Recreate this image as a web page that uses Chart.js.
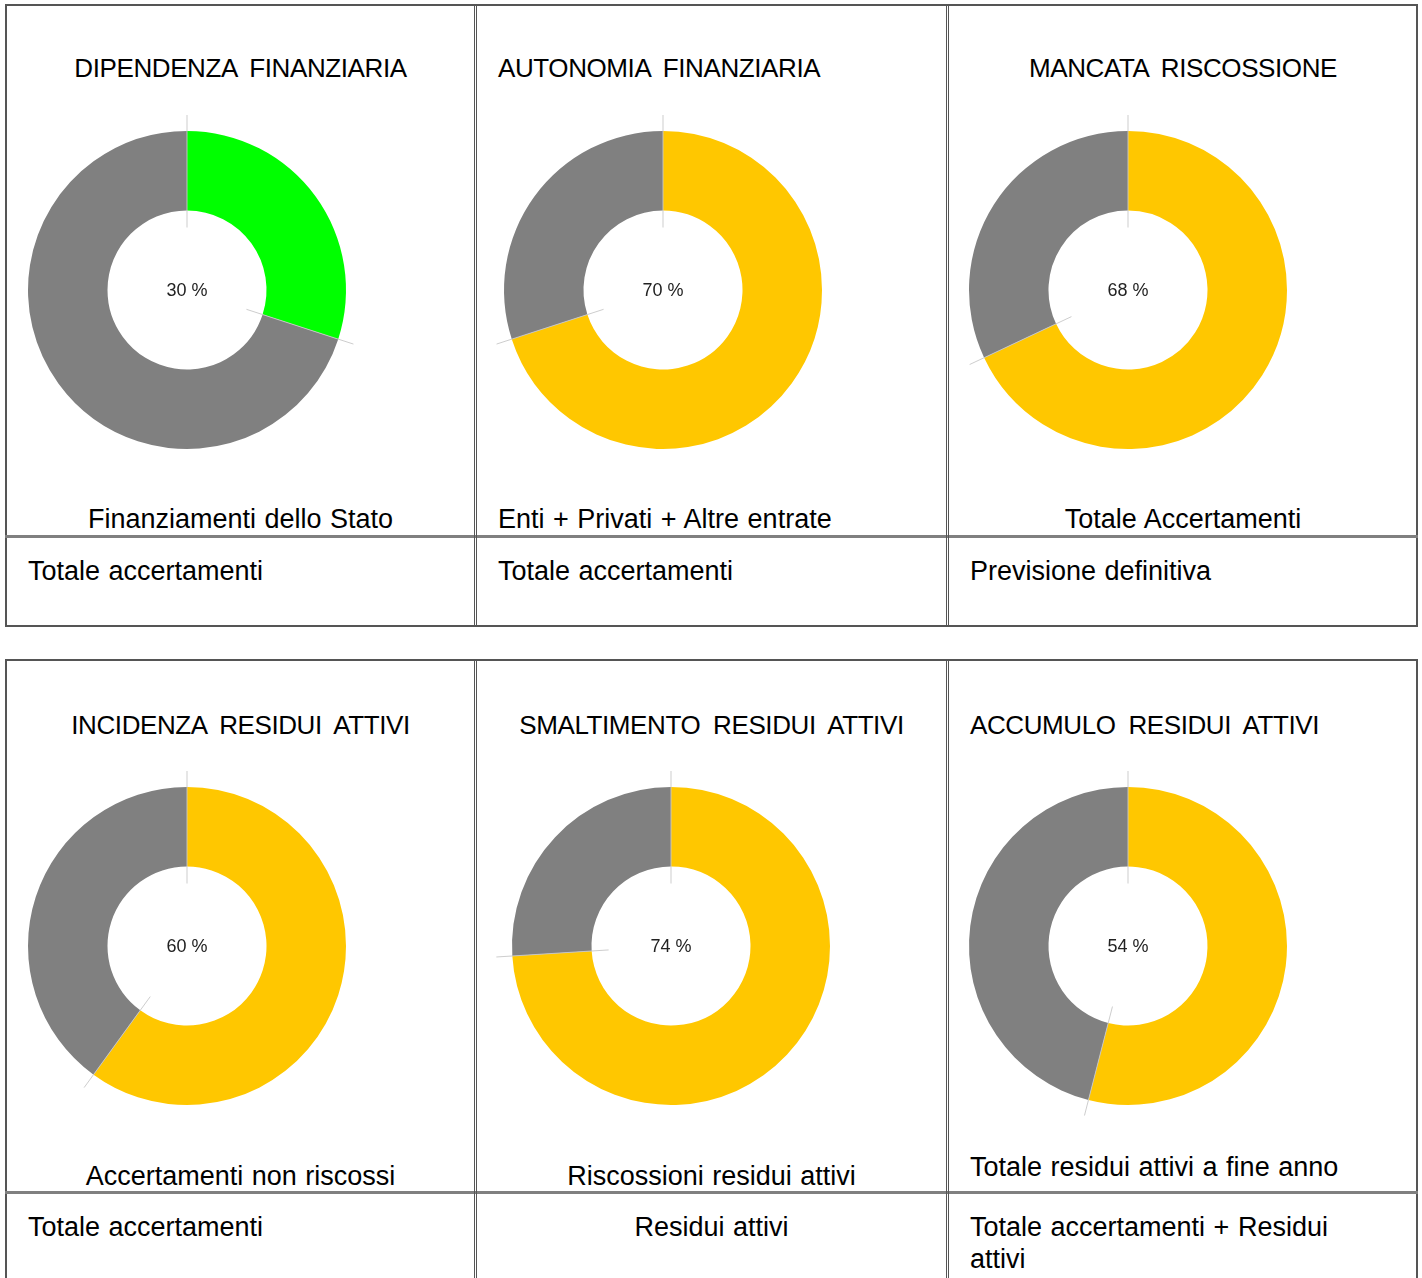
<!doctype html>
<html lang="it">
<head>
    <meta charset="UTF-8">
    <title>Indicatori finanziari</title>
    <style>
        html, body {
            margin: 0;
            padding: 0;
            background: #fff;
        }
        body {
            width: 1422px;
            height: 1278px;
            position: relative;
            overflow: hidden;
            font-family: 'Liberation Sans', Arial, sans-serif;
            color: #000;
        }
        .box {
            position: absolute;
            border: 2px solid #555;
            box-sizing: border-box;
        }
        .vline {
            position: absolute;
            width: 1px;
            background: #555;
        }
        .hline {
            position: absolute;
            height: 3px;
            background: #808080;
        }
        .txt {
            position: absolute;
            font-size: 27px;
            line-height: 30px;
            white-space: nowrap;
            word-spacing: 1px;
        }
        .txt.title {
            font-size: 26px;
            letter-spacing: -0.4px;
            word-spacing: 6px;
        }
        .chart {
            position: absolute;
            width: 360px;
            height: 360px;
        }
    </style>
</head>
<body>
    <div id="page"></div>
    <script src="https://cdn.jsdelivr.net/npm/chart.js@4/dist/chart.umd.min.js"></script>
    <script>
        // indicatori (percentuale della parte colorata)
        var titles = ['DIPENDENZA FINANZIARIA', 'AUTONOMIA FINANZIARIA', 'MANCATA RISCOSSIONE',
                      'INCIDENZA RESIDUI ATTIVI', 'SMALTIMENTO RESIDUI ATTIVI', 'ACCUMULO RESIDUI ATTIVI'];
        var numerators = ['Finanziamenti dello Stato', 'Enti + Privati + Altre entrate', 'Totale Accertamenti',
                          'Accertamenti non riscossi', 'Riscossioni residui attivi', 'Totale residui attivi a fine anno'];
        var denominators = ['Totale accertamenti', 'Totale accertamenti', 'Previsione definitiva',
                            'Totale accertamenti', 'Residui attivi', 'Totale accertamenti + Residui<br>attivi'];
        var values = [30, 70, 68, 60, 74, 54];
        var colors = ['#00ff00', '#ffc700', '#ffc700', '#ffc700', '#ffc700', '#ffc700'];
        var restColor = '#808080';

        // layout of the two tables
        var colX = [7, 477, 949];
        var colW = [467, 469, 468];
        var tableTop = [4, 659];
        var tableBottom = [627, 1300];
        var rowLine = [535, 1191];
        var centers = [[187, 290], [663, 290], [1128, 290], [187, 946], [671, 946], [1128, 946]];
        // text placement: 'c' centered in the column, 'l' left with padding
        var titleAlign = ['c', 'l', 'c', 'c', 'c', 'l'];
        var titleY = [68, 68, 68, 725, 725, 725];
        var numAlign = ['c', 'l', 'c', 'c', 'c', 'l'];
        var numY = [519, 519, 519, 1176, 1176, 1167];
        var denAlign = ['l', 'l', 'l', 'l', 'c', 'l'];
        var denY = [571, 571, 571, 1227, 1227, 1227];

        var page = document.getElementById('page');

        function add(cls, css, html) {
            var d = document.createElement('div');
            d.className = cls;
            d.style.cssText = css;
            if (html) d.innerHTML = html;
            page.appendChild(d);
            return d;
        }

        for (var t = 0; t < 2; t++) {
            var y0 = tableTop[t], y1 = tableBottom[t];
            add('box', 'left:5px;top:' + y0 + 'px;width:1413px;height:' + (y1 - y0) + 'px;');
            add('hline', 'left:5px;top:' + rowLine[t] + 'px;width:1413px;');
            [474, 476, 946, 948].forEach(function (x) {
                add('vline', 'left:' + x + 'px;top:' + y0 + 'px;height:' + (y1 - y0) + 'px;');
            });
        }

        function placeText(i, text, align, y, extra) {
            var col = i % 3;
            var css = 'top:' + (y - 15) + 'px;';
            if (align === 'c') {
                css += 'left:' + colX[col] + 'px;width:' + colW[col] + 'px;text-align:center;';
            } else {
                css += 'left:' + (colX[col] + 21) + 'px;';
            }
            if (text.indexOf('<br>') >= 0) css += 'line-height:32px;top:' + (y - 16) + 'px;';
            add('txt' + (extra || ''), css, text);
        }

        // thin radial marks at slice boundaries + centre label
        var marksPlugin = {
            id: 'marks',
            afterDatasetsDraw: function (chart) {
                var ctx = chart.ctx;
                var meta = chart.getDatasetMeta(0);
                ctx.save();
                ctx.strokeStyle = 'rgba(200,200,200,0.9)';
                ctx.lineWidth = 1;
                meta.data.forEach(function (arc) {
                    var a = arc.startAngle;
                    var r1 = arc.innerRadius - 17, r2 = arc.outerRadius + 16;
                    ctx.beginPath();
                    ctx.moveTo(arc.x + Math.cos(a) * r1, arc.y + Math.sin(a) * r1);
                    ctx.lineTo(arc.x + Math.cos(a) * r2, arc.y + Math.sin(a) * r2);
                    ctx.stroke();
                });
                var c = meta.data[0];
                ctx.fillStyle = '#222';
                ctx.font = '18px "Liberation Sans", Arial, sans-serif';
                ctx.textAlign = 'center';
                ctx.textBaseline = 'middle';
                ctx.fillText(chart.data.datasets[0].data[0] + ' %', c.x, c.y + 1);
                ctx.restore();
            }
        };

        for (var i = 0; i < 6; i++) {
            placeText(i, titles[i], titleAlign[i], titleY[i], ' title');
            placeText(i, numerators[i], numAlign[i], numY[i]);
            placeText(i, denominators[i], denAlign[i], denY[i]);

            var holder = add('chart', 'left:' + (centers[i][0] - 180) + 'px;top:' + (centers[i][1] - 180) + 'px;');
            var cv = document.createElement('canvas');
            holder.appendChild(cv);
            new Chart(cv, {
                type: 'doughnut',
                data: {
                    labels: ['valore', 'resto'],
                    datasets: [{
                        data: [values[i], 100 - values[i]],
                        backgroundColor: [colors[i], restColor],
                        borderWidth: 0
                    }]
                },
                options: {
                    responsive: true,
                    maintainAspectRatio: false,
                    animation: false,
                    events: [],
                    cutout: '50%',
                    layout: { padding: 21 },
                    plugins: {
                        legend: { display: false },
                        tooltip: { enabled: false }
                    }
                },
                plugins: [marksPlugin]
            });
        }
    </script>
</body>
</html>
